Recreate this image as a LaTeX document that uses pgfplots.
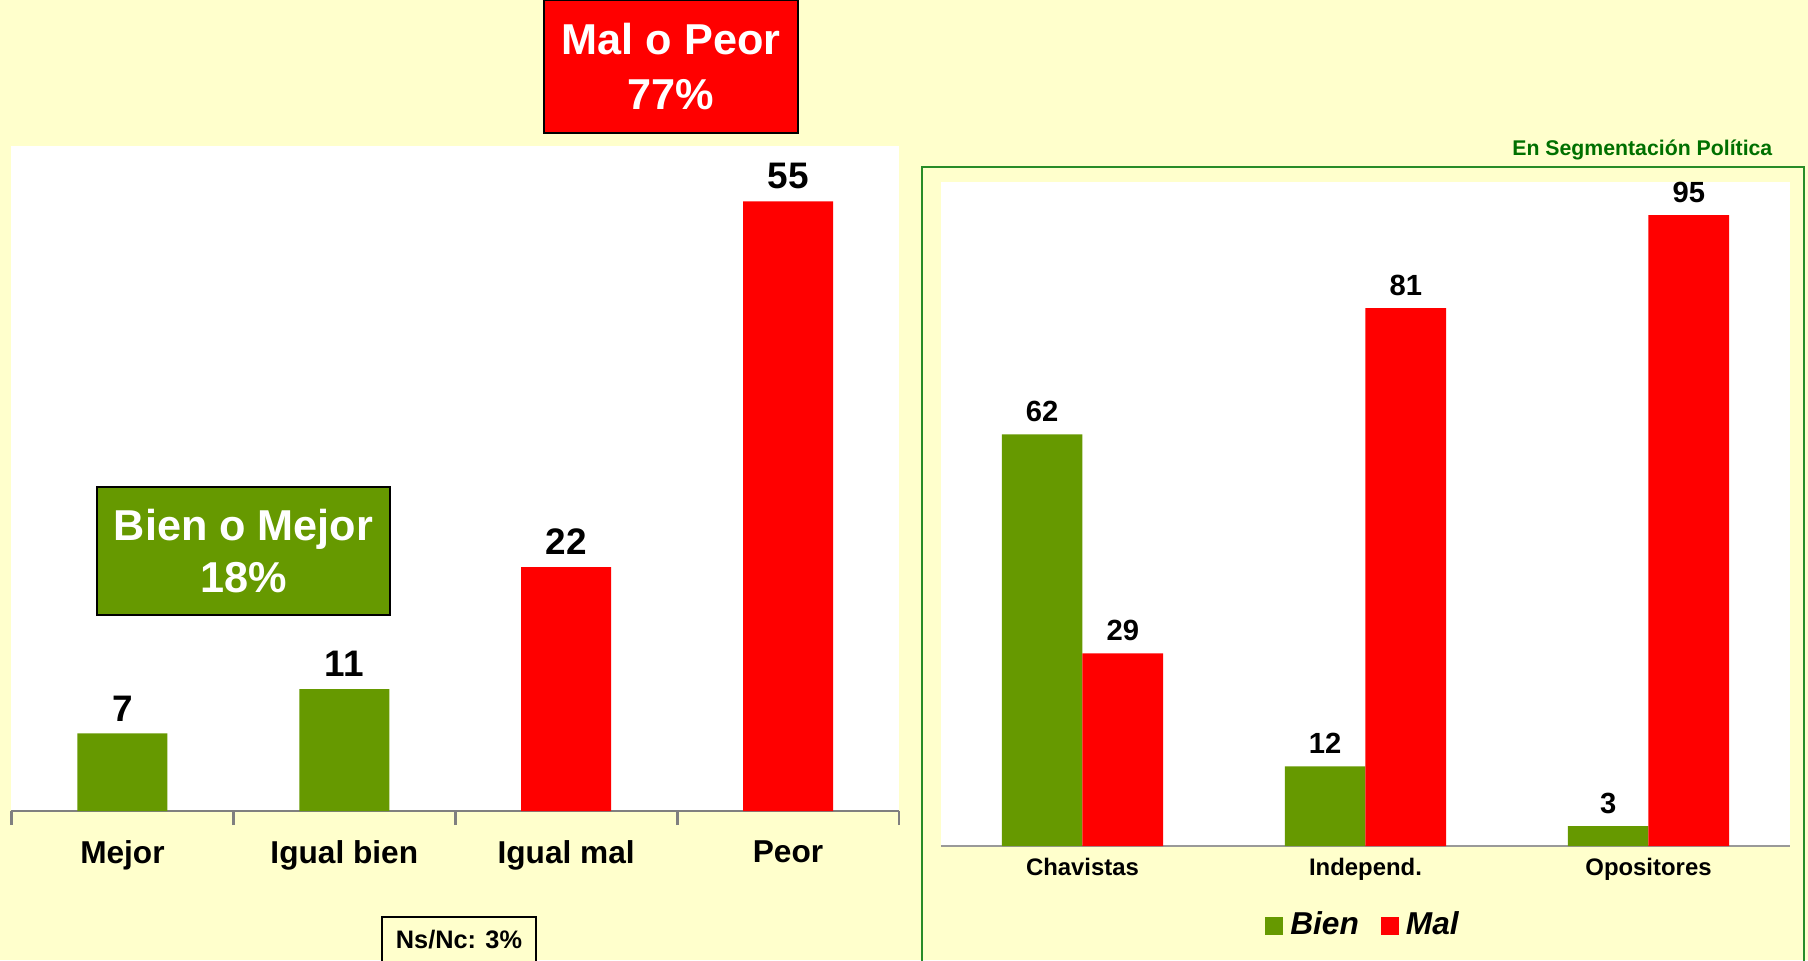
\documentclass[border=0pt]{standalone}
\usepackage{pgfplots}
\pgfplotsset{compat=1.18}
\usepackage{fontspec}
\setmainfont{Liberation Sans}
\definecolor{bg}{RGB}{255,255,204}
\definecolor{bgreen}{RGB}{102,153,0}
\definecolor{bred}{RGB}{255,0,0}
\definecolor{dgreen}{RGB}{0,112,0}
\definecolor{fgreen}{RGB}{40,140,40}
\begin{document}
\begin{tikzpicture}[x=0.1mm,y=0.1mm]
\fill[bg] (0,0) rectangle (1808,960);
\draw[fgreen, line width=0.5pt] (922,793) rectangle (1804,-20);
\begin{axis}[at={(1.15mm,14.9mm)}, anchor=south west, scale only axis,
  width=88.75mm, height=66.5mm,
  xmin=-0.5, xmax=3.5, ymin=0, ymax=60,
  axis background/.style={fill=white},
  axis x line=bottom, axis y line=none,
  axis line style={gray, line width=0.8pt, -},
  xtick={0,1,2,3}, xticklabels={Mejor,Igual bien,Igual mal,Peor},
  major x tick style={draw=none},
  minor xtick={-0.5,0.5,1.5,2.5,3.5},
  minor x tick style={gray, line width=0.8pt},
  minor tick length=1.4mm, tick align=outside,
  xticklabel style={font=\fontsize{9}{10}\selectfont\bfseries, yshift=-0.2mm},
  ybar, bar width=9mm,
  /pgf/number format/assume math mode=true,
  nodes near coords,
  nodes near coords style={font=\fontsize{10.5}{12}\selectfont\bfseries, black},
]
\addplot[fill=bgreen, draw=none, bar shift=0pt] coordinates {(0,7) (1,11)};
\addplot[fill=bred, draw=none, bar shift=0pt] coordinates {(2,22) (3,55)};
\end{axis}
\begin{axis}[at={(94.1mm,11.4mm)}, anchor=south west, scale only axis,
  width=84.9mm, height=66.4mm,
  xmin=-0.5, xmax=2.5, ymin=0, ymax=100,
  axis background/.style={fill=white},
  axis x line=bottom, axis y line=none,
  axis line style={gray!80, line width=0.8pt, -},
  xtick={0,1,2}, xticklabels={Chavistas,Independ.,Opositores},
  major tick length=0pt,
  xticklabel style={font=\fontsize{6.8}{8}\selectfont\bfseries},
  ybar=0pt, bar width=8.07mm,
  /pgf/number format/assume math mode=true,
  nodes near coords,
  nodes near coords style={font=\fontsize{8.3}{10}\selectfont\bfseries, black},
  legend style={at={(0.5,-0.12)}, anchor=center, draw=none, fill=none,
    legend columns=2, font=\fontsize{9}{10}\selectfont\bfseries\itshape,
    /tikz/every even column/.append style={column sep=1.5mm}},
  legend image code/.code={\fill[#1] (0cm,-0.09cm) rectangle (0.18cm,0.09cm);},
]
\addplot[fill=bgreen, draw=none] coordinates {(0,62) (1,12) (2,3)};
\addplot[fill=bred, draw=none] coordinates {(0,29) (1,81) (2,95)};
\legend{Bien,Mal}
\end{axis}
\node[draw=black, fill=bred, minimum width=25.4mm, minimum height=13.3mm, text=white,
  align=center, font=\fontsize{12.3}{15.4}\selectfont\bfseries] at (671,893.5) {\raisebox{-1mm}{}Mal o Peor\\77\%};
\node[draw=black, fill=bgreen, minimum width=29.3mm, minimum height=12.8mm, text=white,
  align=center, font=\fontsize{12.3}{14.8}\selectfont\bfseries] at (243.5,409) {Bien o Mejor\\18\%};
\draw[black, line width=0.4pt, fill=bg] (382,-20) rectangle (536,43);
\node[font=\fontsize{7.2}{8}\selectfont\bfseries] at (459,20) {Ns/Nc: 3\%};
\node[anchor=east, inner sep=0pt, text=dgreen, font=\fontsize{6.05}{7}\selectfont\bfseries] at (1773,810) {En Segmentación Política};
\pgfresetboundingbox
\useasboundingbox (0,0) rectangle (1808,960);
\end{tikzpicture}
\end{document}
